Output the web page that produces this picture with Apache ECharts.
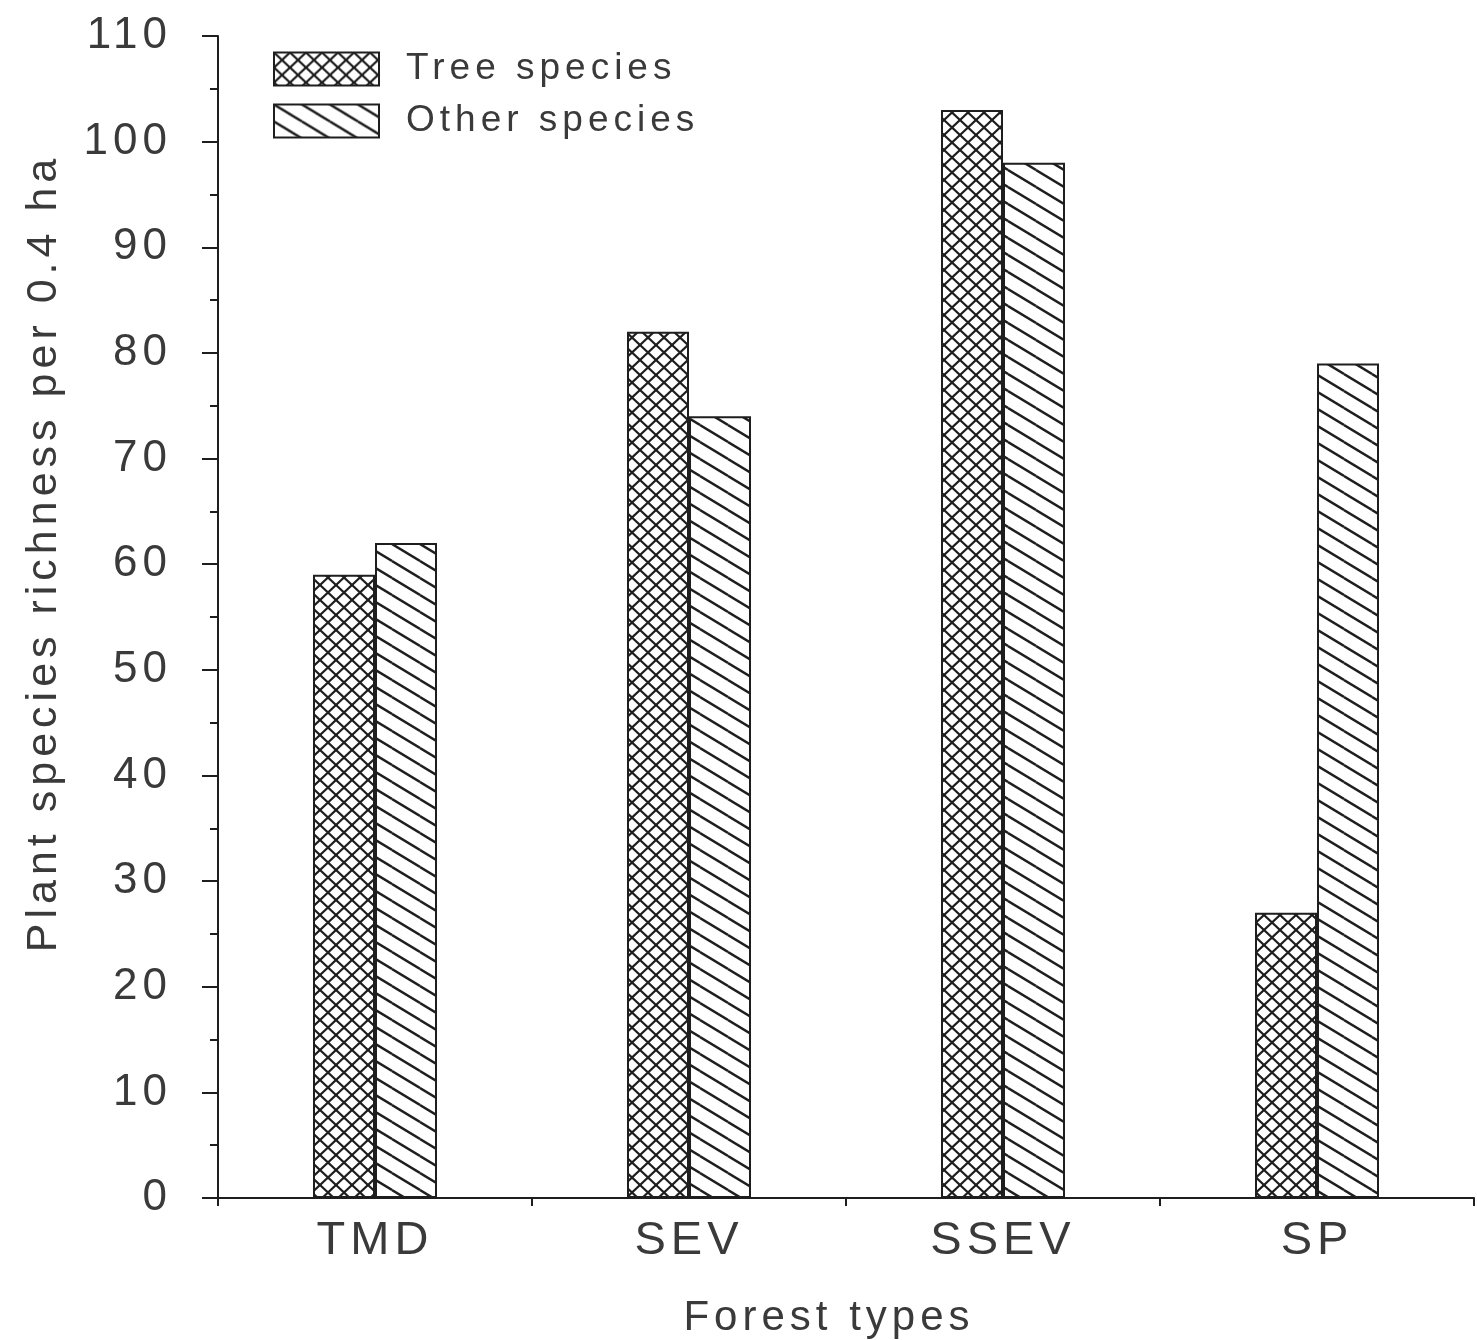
<!DOCTYPE html>
<html>
<head>
<meta charset="utf-8">
<script src="https://cdn.jsdelivr.net/npm/echarts@6/dist/echarts.min.js"></script>
<style>
html,body{margin:0;padding:0;background:#fff;}
#chart{width:1477px;height:1340px;}
</style>
</head>
<body>
<div id="chart"></div>
<script>
// ---- data ----
const categories = ['TMD', 'SEV', 'SSEV', 'SP'];
const seriesNames = ['Tree species', 'Other species'];
const treeSpecies = [59, 82, 103, 27];
const otherSpecies = [62, 74, 98, 79];
const yMin = 0, yMax = 110, yStep = 10;
const xTitle = 'Forest types';
const yTitle = 'Plant species richness per 0.4 ha';

// ---- styling helpers ----
const FONT = '"Liberation Sans", Arial, sans-serif';
const INK = '#1e1e1e';
const TXT = '#3a3a3a';
const LS = 5; // letter spacing (px) to mimic the wide-tracked typeface

(function setupLetterSpacing(){
  const proto = CanvasRenderingContext2D.prototype;
  if (!('letterSpacing' in proto)) return;
  ['fillText','strokeText'].forEach(fn => {
    const orig = proto[fn];
    proto[fn] = function(){
      const prev = this.letterSpacing;
      this.letterSpacing = LS + 'px';
      const r = orig.apply(this, arguments);
      this.letterSpacing = prev;
      return r;
    };
  });
  if (typeof echarts.setPlatformAPI === 'function') {
    const mctx = document.createElement('canvas').getContext('2d');
    echarts.setPlatformAPI({
      measureText: function(text, font){
        mctx.font = font || '12px sans-serif';
        const t = String(text == null ? '' : text);
        return { width: mctx.measureText(t).width + LS * t.length };
      }
    });
  }
})();

function netPattern(){
  const w = 16, h = 15;
  const c = document.createElement('canvas');
  c.width = w; c.height = h;
  const g = c.getContext('2d');
  g.fillStyle = '#fff'; g.fillRect(0, 0, w, h);
  g.strokeStyle = INK; g.lineWidth = 2.2;
  for (const dx of [-w, 0, w]) for (const dy of [-h, 0, h]) {
    g.beginPath();
    g.moveTo(dx, dy); g.lineTo(dx + w, dy + h);
    g.moveTo(dx + w, dy); g.lineTo(dx, dy + h);
    g.stroke();
  }
  return c;
}
function stripePattern(){
  const w = 28, h = 17;
  const c = document.createElement('canvas');
  c.width = w; c.height = h;
  const g = c.getContext('2d');
  g.fillStyle = '#fff'; g.fillRect(0, 0, w, h);
  g.strokeStyle = INK; g.lineWidth = 2.4;
  for (const dx of [-w, 0, w]) for (const dy of [-h, 0, h]) {
    g.beginPath();
    g.moveTo(dx, dy); g.lineTo(dx + w, dy + h);
    g.stroke();
  }
  return c;
}

const chart = echarts.init(document.getElementById('chart'), null, {renderer: 'canvas'});
const barStyle = (pat) => ({
  color: { image: pat, repeat: 'repeat' },
  borderColor: INK,
  borderWidth: 2
});

chart.setOption({
  backgroundColor: '#fff',
  animation: false,
  grid: { left: 218, right: 3, top: 36, bottom: 142, containLabel: false, outerBoundsMode: 'none' },
  legend: {
    orient: 'vertical',
    left: 273, top: 48,
    icon: 'rect',
    itemWidth: 105, itemHeight: 33, itemGap: 10,
    padding: 0,
    data: seriesNames,
    formatter: '{t|{name}}',
    textStyle: {
      rich: { t: { fontSize: 37, fontFamily: FONT, color: TXT, padding: [0, 0, 0, 22] } }
    }
  },
  xAxis: {
    type: 'category',
    data: categories,
    name: xTitle,
    nameLocation: 'middle',
    nameGap: 97,
    nameTextStyle: { fontSize: 42, fontFamily: FONT, color: TXT, padding: [0, 34, 0, 0] },
    axisLine: { lineStyle: { color: INK, width: 2 } },
    axisTick: { show: true, length: 8, lineStyle: { color: INK, width: 2 } },
    axisLabel: { fontSize: 47, fontFamily: FONT, color: TXT, margin: 17 },
    splitLine: { show: false }
  },
  yAxis: {
    type: 'value',
    min: yMin, max: yMax, interval: yStep,
    name: yTitle,
    nameLocation: 'middle',
    nameGap: 150,
    nameTextStyle: { fontSize: 43, fontFamily: FONT, color: TXT, padding: [0, 0, 0, 128] },
    axisLine: { show: true, lineStyle: { color: INK, width: 2 } },
    axisTick: { show: true, length: 16, lineStyle: { color: INK, width: 2 } },
    minorTick: { show: true, splitNumber: 2, length: 8, lineStyle: { color: INK, width: 2 } },
    axisLabel: { fontSize: 44, fontFamily: FONT, color: TXT, margin: 46 },
    splitLine: { show: false }
  },
  series: [
    {
      name: seriesNames[0], type: 'bar', data: treeSpecies,
      barWidth: 62, barGap: '0%',
      itemStyle: barStyle(netPattern())
    },
    {
      name: seriesNames[1], type: 'bar', data: otherSpecies,
      barWidth: 62, barGap: '0%',
      itemStyle: barStyle(stripePattern())
    }
  ]
});
</script>
</body>
</html>
